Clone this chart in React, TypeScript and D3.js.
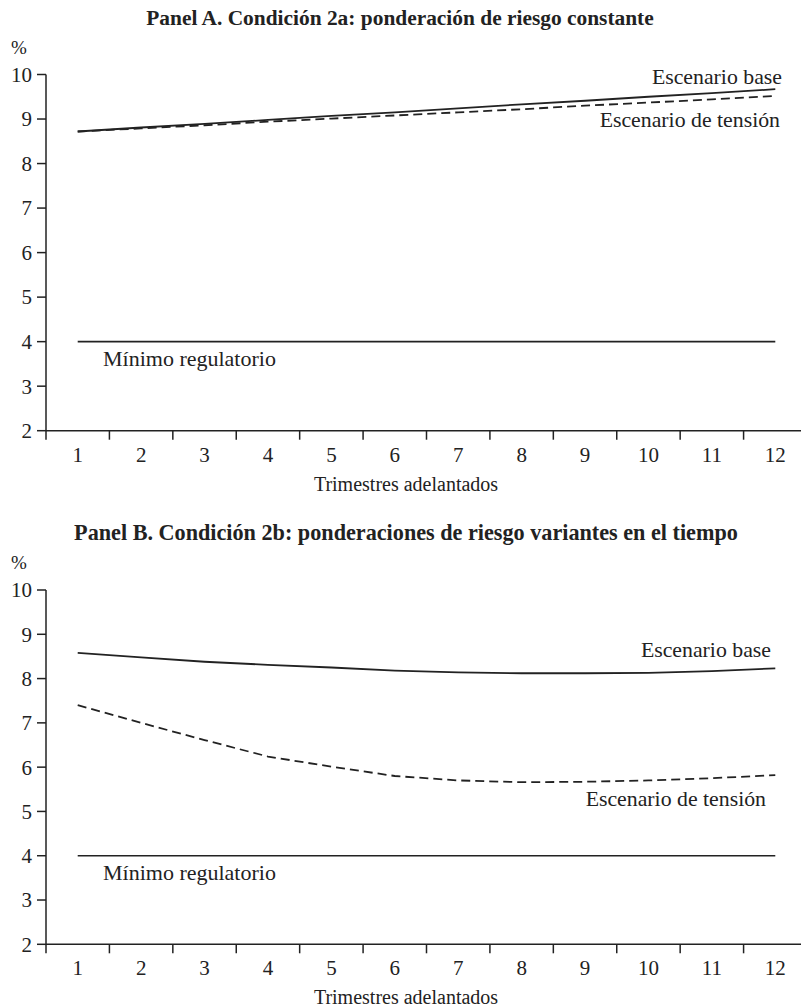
import React from "react";
import * as d3 from "d3";

const categories = ["1", "2", "3", "4", "5", "6", "7", "8", "9", "10", "11", "12"];
const yTicks = [2, 3, 4, 5, 6, 7, 8, 9, 10];

const panelABase = [8.72, 8.81, 8.89, 8.98, 9.07, 9.15, 9.24, 9.33, 9.41, 9.5, 9.58, 9.67];
const panelAStress = [8.72, 8.79, 8.86, 8.94, 9.01, 9.08, 9.15, 9.22, 9.3, 9.37, 9.44, 9.52];
const panelAMin = [4, 4, 4, 4, 4, 4, 4, 4, 4, 4, 4, 4];

const panelBBase = [8.58, 8.48, 8.38, 8.31, 8.25, 8.18, 8.14, 8.12, 8.12, 8.13, 8.17, 8.23];
const panelBStress = [7.4, 7.0, 6.61, 6.24, 6.01, 5.8, 5.7, 5.66, 5.67, 5.7, 5.75, 5.82];
const panelBMin = [4, 4, 4, 4, 4, 4, 4, 4, 4, 4, 4, 4];

const panelATitle = "Panel A. Condición 2a: ponderación de riesgo constante";
const panelBTitle = "Panel B. Condición 2b: ponderaciones de riesgo variantes en el tiempo";
const xTitle = "Trimestres adelantados";
const unitLabel = "%";
const baseLabel = "Escenario base";
const stressLabel = "Escenario de tensión";
const minLabel = "Mínimo regulatorio";

const FONT = "'Liberation Serif', 'DejaVu Serif', serif";

type PanelProps = {
  top: number;
  bottom: number;
  title: string;
  titleX: number;
  titleSize: number;
  base: number[];
  stress: number[];
  minimum: number[];
  baseLabelY: number;
  baseLabelX: number;
  stressLabelY: number;
  stressLabelX: number;
};

function Panel(p: PanelProps) {
  const x = d3.scaleBand<string>().domain(categories).range([46, 807]).padding(0);
  const bw = x.bandwidth();
  const cx = (c: string) => (x(c) as number) + bw / 2;
  const y = d3.scaleLinear().domain([2, 10]).range([p.bottom, p.top]);
  const line = d3
    .line<number>()
    .x((_, i) => cx(categories[i]))
    .y((d) => y(d));
  const axisX = 46;
  return (
    <g>
      <text x={p.titleX} y={p.top - 50} textAnchor="middle" fontWeight="bold" fontSize={p.titleSize} fill="#222">
        {p.title}
      </text>
      <text x={19} y={p.top - 21} textAnchor="middle" fontSize={19} fill="#222">
        {unitLabel}
      </text>
      {/* y axis */}
      <line x1={axisX} x2={axisX} y1={y(10)} y2={y(2)} stroke="#222" strokeWidth={1.5} />
      {yTicks.map((t) => (
        <g key={t}>
          <line x1={axisX - 9} x2={axisX} y1={y(t)} y2={y(t)} stroke="#222" strokeWidth={1.5} />
          <text x={axisX - 14} y={y(t)} dy="0.35em" textAnchor="end" fontSize={21} fill="#222">
            {t}
          </text>
        </g>
      ))}
      {/* x axis */}
      <line x1={axisX} x2={801} y1={y(2)} y2={y(2)} stroke="#222" strokeWidth={1.5} />
      {categories.map((c) => (
        <g key={c}>
          <line x1={x(c) as number} x2={x(c) as number} y1={y(2)} y2={y(2) + 9} stroke="#222" strokeWidth={1.5} />
          <text x={cx(c)} y={y(2) + 31} textAnchor="middle" fontSize={21} fill="#222">
            {c}
          </text>
        </g>
      ))}
      <text x={406} y={y(2) + 60} textAnchor="middle" fontSize={20} fill="#222">
        {xTitle}
      </text>
      {/* lines */}
      <path d={line(p.minimum) as string} fill="none" stroke="#222" strokeWidth={1.6} />
      <path d={line(p.base) as string} fill="none" stroke="#222" strokeWidth={1.8} />
      <path d={line(p.stress) as string} fill="none" stroke="#222" strokeWidth={1.8} strokeDasharray="9,5" />
      <text x={p.baseLabelX} y={p.baseLabelY} textAnchor="end" fontSize={21.8} fill="#222">
        {baseLabel}
      </text>
      <text x={p.stressLabelX} y={p.stressLabelY} textAnchor="end" fontSize={21.8} fill="#222">
        {stressLabel}
      </text>
      <text x={103} y={y(4) + 24} fontSize={22} fill="#222">
        {minLabel}
      </text>
    </g>
  );
}

export default function App() {
  return (
    <svg width={801} height={1008} style={{ display: "block", position: "absolute", left: 0, top: 0, background: "#fff" }} fontFamily={FONT}>
      <rect x={0} y={0} width={801} height={1008} fill="#fff" />
      <Panel
        top={74.5}
        bottom={430.7}
        title={panelATitle}
        titleX={400}
        titleSize={21.4}
        base={panelABase}
        stress={panelAStress}
        minimum={panelAMin}
        baseLabelX={782}
        baseLabelY={84}
        stressLabelX={780}
        stressLabelY={127}
      />
      <Panel
        top={590}
        bottom={944.3}
        title={panelBTitle}
        titleX={406}
        titleSize={22.2}
        base={panelBBase}
        stress={panelBStress}
        minimum={panelBMin}
        baseLabelX={771}
        baseLabelY={657}
        stressLabelX={766}
        stressLabelY={806}
      />
    </svg>
  );
}
